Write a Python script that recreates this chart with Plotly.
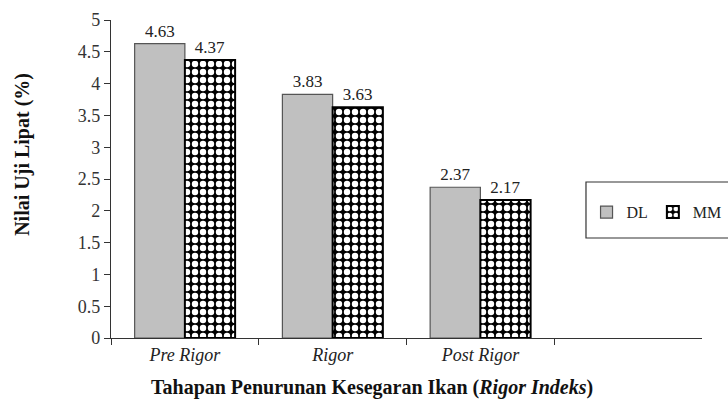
import plotly.graph_objects as go

categories = ["Pre Rigor", "Rigor", "Post Rigor"]
placeholder = [" "]
dl_values = [4.63, 3.83, 2.37]
mm_values = [4.37, 3.63, 2.17]
y_ticks = [0, 0.5, 1, 1.5, 2, 2.5, 3, 3.5, 4, 4.5, 5]
y_ticktext = ["0", "0.5", "1", "1.5", "2", "2.5", "3", "3.5", "4", "4.5", "5"]
x_title = "<b>Tahapan Penurunan Kesegaran Ikan (<i>Rigor Indeks</i>)</b>"
y_title = "<b>Nilai Uji Lipat (%)</b>"

SERIF = "Liberation Serif"

fig = go.Figure()
fig.add_trace(go.Bar(
    name="DL", x=categories, y=dl_values,
    marker=dict(color="#c0c0c0", line=dict(color="#555555", width=1.2)),
    text=[f"{v:.2f}" for v in dl_values], textposition="outside",
    textfont=dict(family=SERIF, size=17, color="#222222"), cliponaxis=False,
))
fig.add_trace(go.Bar(
    name="MM", x=categories, y=mm_values,
    marker=dict(color="black", line=dict(color="black", width=2),
                pattern=dict(shape=".", bgcolor="black", fgcolor="white",
                             size=8, solidity=0.5, fillmode="replace")),
    text=[f"{v:.2f}" for v in mm_values], textposition="outside",
    textfont=dict(family=SERIF, size=17, color="#222222"), cliponaxis=False,
))

fig.update_layout(
    width=728, height=401,
    margin=dict(l=111, r=26, t=20, b=63, autoexpand=False),
    paper_bgcolor="white", plot_bgcolor="white",
    barmode="group", bargap=0.32, bargroupgap=0,
    font=dict(family=SERIF, color="#222222"),
    showlegend=True,
    legend=dict(orientation="h", xref="container", yref="container",
                x=0.998, y=0.471, xanchor="right", yanchor="middle",
                bgcolor="rgba(0,0,0,0)", font=dict(family=SERIF, size=16, color="#222222"),
                itemwidth=30),
    shapes=[dict(type="rect", xref="paper", yref="paper",
                 x0=0.8037, x1=1.06, y0=0.3145, y1=0.4906,
                 line=dict(color="#333333", width=1.2), fillcolor="rgba(0,0,0,0)")],
    annotations=[
        dict(text=x_title, xref="paper", yref="paper", x=0.441, y=-0.157,
             xanchor="center", yanchor="middle", showarrow=False,
             font=dict(family=SERIF, size=20, color="#111111")),
        dict(text=y_title, xref="paper", yref="paper", x=-0.149, y=0.579,
             xanchor="center", yanchor="middle", showarrow=False, textangle=-90,
             font=dict(family=SERIF, size=20, color="#111111")),
    ],
)

fig.update_xaxes(
    type="category", categoryorder="array", categoryarray=categories + placeholder,
    range=[-0.5, 3.5], tickson="boundaries", ticks="outside", ticklen=6,
    tickcolor="#333333", showline=True, linecolor="#333333", linewidth=1.2,
    showgrid=False, tickfont=dict(family=SERIF, size=18, color="#222222"),
    tickvals=categories, ticktext=[f"<i>{c}</i>" for c in categories],
)
fig.update_yaxes(
    range=[0, 5], tickvals=y_ticks, ticktext=y_ticktext, ticks="outside", ticklen=6,
    tickcolor="#333333", showline=True, linecolor="#333333", linewidth=1.2,
    showgrid=False, zeroline=False,
    tickfont=dict(family=SERIF, size=18, color="#333333"),
)

fig.write_html("out.html")
